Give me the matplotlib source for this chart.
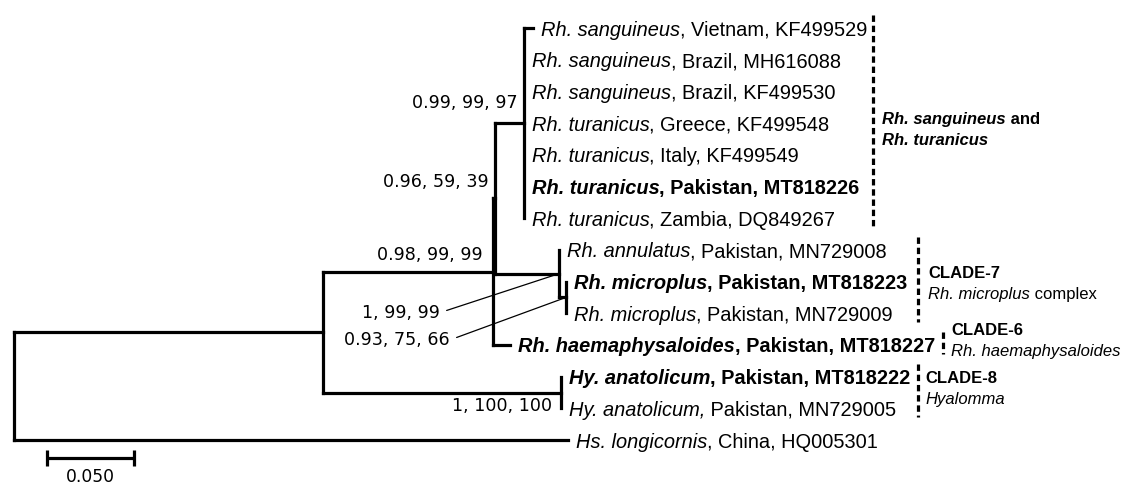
import matplotlib.pyplot as plt

# internal nodes: parent, branch length (subst./site), support (BI, ML, NJ)
node_ids = ['root', 'ingroup', 'rhipi', 'rh_sub', 'sang_tur', 'micro', 'micro_sub', 'hyal']
node_parent = [None, 'root', 'ingroup', 'rhipi', 'rh_sub', 'rh_sub', 'micro', 'ingroup']
node_branch = [0.0, 0.1767, 0.0970, 0.0014, 0.0160, 0.0362, 0.0040, 0.1358]
node_support = ['', '', '0.98, 99, 99', '0.96, 59, 39', '0.99, 99, 97',
                '1, 99, 99', '0.93, 75, 66', '1, 100, 100']

# leaves, top to bottom
leaf_species = ['Rh. sanguineus', 'Rh. sanguineus', 'Rh. sanguineus', 'Rh. turanicus',
                'Rh. turanicus', 'Rh. turanicus', 'Rh. turanicus', 'Rh. annulatus',
                'Rh. microplus', 'Rh. microplus', 'Rh. haemaphysaloides',
                'Hy. anatolicum', 'Hy. anatolicum,', 'Hs. longicornis']
leaf_rest = [', Vietnam, KF499529', ', Brazil, MH616088', ', Brazil, KF499530',
             ', Greece, KF499548', ', Italy, KF499549', ', Pakistan, MT818226',
             ', Zambia, DQ849267', ', Pakistan, MN729008', ', Pakistan, MT818223',
             ', Pakistan, MN729009', ', Pakistan, MT818227', ', Pakistan, MT818222',
             ' Pakistan, MN729005', ', China, HQ005301']
leaf_bold = [False, False, False, False, False, True, False,
             False, True, False, True, True, False, False]
leaf_parent = ['sang_tur'] * 7 + ['micro', 'micro_sub', 'micro_sub', 'rhipi', 'hyal', 'hyal', 'root']
leaf_branch = [0.0052, 0, 0, 0, 0, 0, 0, 0, 0, 0, 0.0097, 0, 0, 0.3165]

# clades (leaf index ranges) and their labels
clade_first = [0, 7, 10, 11]
clade_last = [6, 9, 10, 12]
clade_title = ['Rh. sanguineus', 'CLADE-7', 'CLADE-6', 'CLADE-8']
clade_title_tail = [' and', '', '', '']
clade_sub = ['Rh. turanicus', 'Rh. microplus', 'Rh. haemaphysaloides', 'Hyalomma']
clade_sub_tail = ['', ' complex', '', '']

scale_len = 0.05
scale_label = '0.050'

# ---- layout helpers (pixel positions of the reference image)
X0, PXU = 13.5, 1752.0
Y0, ROW = 28.0, 31.7
def px_x(p):
    return (p - X0) / PXU
def px_y(p):
    return (p - Y0) / ROW

LEAF_FONT = 'Liberation Sans'
SUP_FONT = 'DejaVu Sans'

fig = plt.figure(figsize=(11.22, 4.84), dpi=100)
ax = fig.add_axes([0, 0, 1, 1])
ax.set_xlim(px_x(0), px_x(1122))
ax.set_ylim(px_y(484), px_y(0))
ax.axis('off')

depth = {}
for nid, par, bl in zip(node_ids, node_parent, node_branch):
    depth[nid] = 0.0 if par is None else depth[par] + bl

def child_ys(nid):
    ys = [float(i) for i, p in enumerate(leaf_parent) if p == nid]
    ys += [node_y(c) for c, p in zip(node_ids, node_parent) if p == nid]
    return ys

def node_y(nid):
    ys = child_ys(nid)
    return (min(ys) + max(ys)) / 2

LW = 2.3
def seg(xs, ys, **kw):
    ax.plot(xs, ys, color='black', lw=LW, solid_capstyle='projecting', **kw)

# tree branches
for nid, par in zip(node_ids, node_parent):
    ys = child_ys(nid)
    seg([depth[nid]] * 2, [min(ys), max(ys)])
    if par is not None:
        y = node_y(nid)
        seg([depth[par], depth[nid]], [y, y])

leaf_depth = []
for i, (par, bl) in enumerate(zip(leaf_parent, leaf_branch)):
    leaf_depth.append(depth[par] + bl)
    if bl > 0:
        seg([depth[par], depth[par] + bl], [i, i])

# leaf labels
for i in range(len(leaf_species)):
    w = 'bold' if leaf_bold[i] else 'normal'
    t = ax.annotate(leaf_species[i], xy=(leaf_depth[i], i), xytext=(8, 0),
                    textcoords='offset pixels', ha='left', va='center_baseline',
                    fontsize=14.4, family=LEAF_FONT, style='italic', weight=w)
    ax.annotate(leaf_rest[i], xy=(1, 0), xycoords=t, ha='left', va='bottom',
                fontsize=14.4, family=LEAF_FONT, weight=w)

# support values
sup_offset = {'rhipi': (-10, 17), 'rh_sub': (-7, 16), 'sang_tur': (-6, 20), 'hyal': (-9, -13)}
sup_leader = {'micro': (-119, -39), 'micro_sub': (-116, -42.5)}
for nid, s in zip(node_ids, node_support):
    if not s:
        continue
    xy = (depth[nid], node_y(nid))
    if nid in sup_offset:
        ax.annotate(s, xy=xy, xytext=sup_offset[nid], textcoords='offset pixels',
                    ha='right', va='center', fontsize=12.6, family=SUP_FONT)
    else:
        ax.annotate(s, xy=xy, xytext=sup_leader[nid], textcoords='offset pixels',
                    ha='right', va='center', fontsize=12.6, family=SUP_FONT,
                    arrowprops=dict(arrowstyle='-', lw=0.9, color='black',
                                    relpos=(1, 0.5), shrinkA=3, shrinkB=0))

# clade bars and labels
bar_x = [873, 918, 943, 918]
text_x = [882, 928, 951, 925]
text_y = [118, 272, 329, 377]
for k in range(len(clade_first)):
    ax.plot([px_x(bar_x[k])] * 2, [clade_first[k] - 0.41, clade_last[k] + 0.28],
            color='black', lw=LW, linestyle=(0, (2, 1.2)), dash_capstyle='butt')
    special = k == 0
    t1 = ax.text(px_x(text_x[k]), px_y(text_y[k]), clade_title[k], ha='left',
                 va='center_baseline', fontsize=12, family=LEAF_FONT, weight='bold',
                 style='italic' if special else 'normal')
    if clade_title_tail[k]:
        ax.annotate(clade_title_tail[k], xy=(1, 0), xycoords=t1, ha='left', va='bottom',
                    fontsize=12, family=LEAF_FONT, weight='bold')
    t2 = ax.text(px_x(text_x[k]), px_y(text_y[k] + 21), clade_sub[k], ha='left',
                 va='center_baseline', fontsize=12, family=LEAF_FONT, style='italic',
                 weight='bold' if special else 'normal')
    if clade_sub_tail[k]:
        ax.annotate(clade_sub_tail[k], xy=(1, 0), xycoords=t2, ha='left', va='bottom',
                    fontsize=12, family=LEAF_FONT)

# scale bar
sx, sy = px_x(46.7), px_y(458)
ax.plot([sx, sx + scale_len], [sy, sy], color='black', lw=LW, solid_capstyle='butt')
for xx in (sx, sx + scale_len):
    ax.plot([xx, xx], [sy - 0.24, sy + 0.24], color='black', lw=LW, solid_capstyle='butt')
ax.text(sx + scale_len / 2, px_y(477), scale_label, ha='center', va='center',
        fontsize=12.3, family=SUP_FONT)

fig.savefig('out.png', dpi=100)
